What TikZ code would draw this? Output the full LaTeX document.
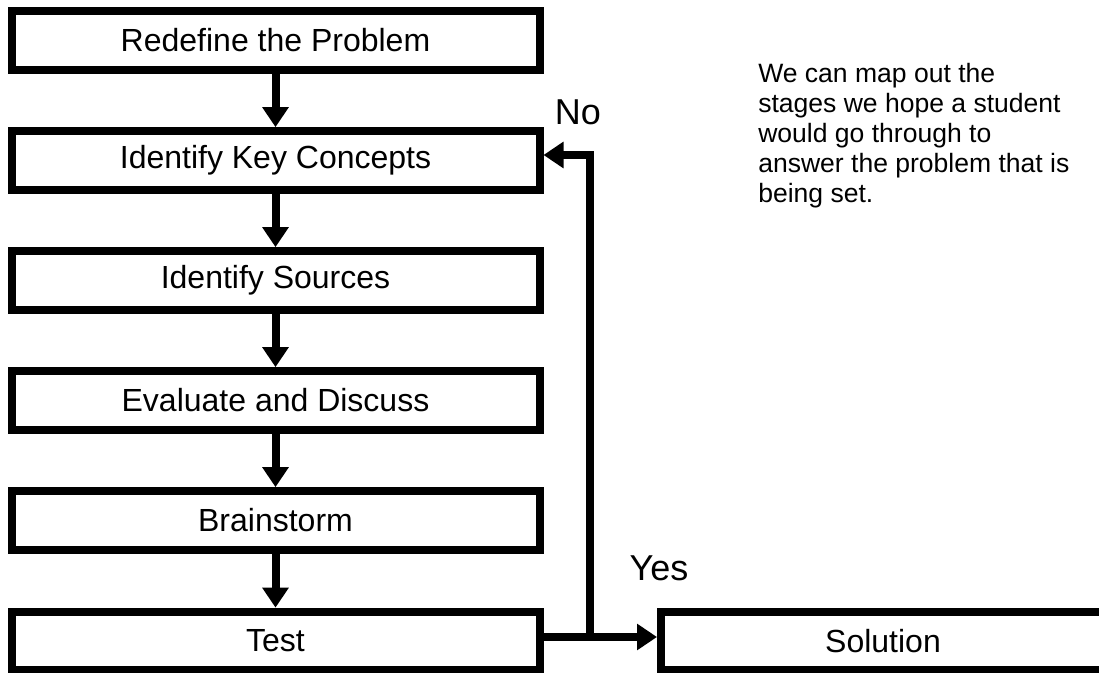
\documentclass[tikz,border=0pt]{standalone}
\usepackage{fontspec}
\setmainfont{Liberation Sans}
\usetikzlibrary{arrows.meta}

\begin{document}
\begin{tikzpicture}
      [ x = .75pt, y = -.75pt
      , stage/.style =
        { draw, line width = 6pt, inner sep = 0pt
        , minimum width = 396pt, minimum height = 44pt
        , font = \fontsize{24}{28}\selectfont }
      , edge/.style =
        { line width = 6pt, -{Triangle[length = 15pt, width = 19pt]} }
      , answer/.style =
        { font = \fontsize{27}{32}\selectfont }
      ]
      \useasboundingbox (0, 0) rectangle (1099, 673);
      \node [stage] (redefine) at (275.5, 40.5) {Redefine the Problem};
      \node [stage] (concepts) at (275.5, 160.5) {Identify Key Concepts};
      \node [stage] (sources) at (275.5, 280.5) {Identify Sources};
      \node [stage] (evaluate) at (275.5, 400.5) {Evaluate and Discuss};
      \node [stage] (brainstorm) at (275.5, 520.5) {Brainstorm};
      \node [stage] (test) at (275.5, 641) {Test};
      \node [stage, minimum width = 333pt] (solution) at (883, 641) {Solution};
      \coordinate (join) at (589.5, 637);
      \coordinate (back) at (589.5, 155);
      \node [answer] (no) at (578, 112) {No};
      \node [answer] (yes) at (659, 568) {Yes};
      \node [anchor = north west, align = left, inner sep = 0pt
            , font = \fontsize{19.9}{22.5}\selectfont] (note) at (758, 63)
            {We can map out the\\stages we hope a student\\would go through to\\answer the problem that is\\being set.};
      \draw [edge] (redefine) to (concepts);
      \draw [edge] (concepts) to (sources);
      \draw [edge] (sources) to (evaluate);
      \draw [edge] (evaluate) to (brainstorm);
      \draw [edge] (brainstorm) to (test);
      \draw [edge] (test.east |- join) to (solution.west |- join);
      \draw [edge] (join) -- (back) -- (concepts.east |- back);
    \end{tikzpicture}
\end{document}
